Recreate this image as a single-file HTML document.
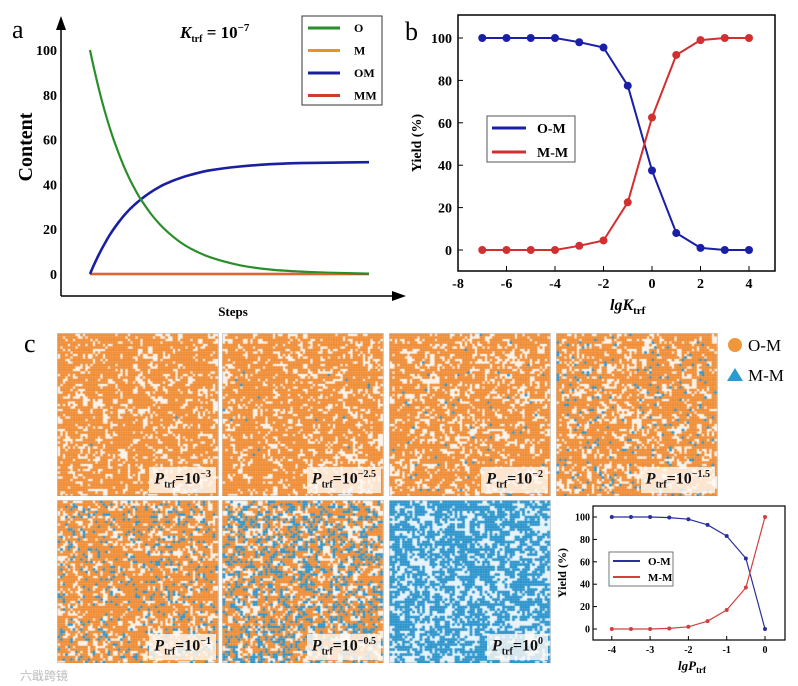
<!DOCTYPE html>
<html><head><meta charset="utf-8"><style>
body{margin:0;background:#fff;}
#root{position:relative;width:798px;height:686px;overflow:hidden;font-family:"Liberation Serif",serif;}
svg text{font-family:"Liberation Serif",serif;}
canvas{position:absolute;}
.lbl{position:absolute;background:rgba(255,250,245,0.8);font:bold 16px "Liberation Serif",serif;color:#111;padding:2px 5px;}
.lbl i{font-style:italic;}
.lbl sub{font-size:10px;}
.lbl sup{font-size:10px;}
</style></head><body>
<div id="root">
<svg id="svg" width="798" height="686" style="position:absolute;left:0;top:0"></svg>
</div>
<script>
// ---- Panel a data ----
const aSteps=[0,5,10,15,20,25,30,35,40,45,50,60,70,80,90,100,120,150,180,210,240,279];
const aO=[100,89.8,80.6,72.3,64.9,58.3,52.3,46.9,42.1,37.8,33.9,27.4,22.1,17.8,14.3,11.5,7.5,3.9,2.0,1.1,0.6,0.2];
const aOM=[0,5.1,9.7,13.8,17.6,20.9,23.9,26.6,29.0,31.1,33.0,36.3,39.0,41.1,42.8,44.2,46.3,48.0,49.0,49.5,49.7,49.9];
const aM=[0,0,0,0,0,0,0,0,0,0,0,0,0,0,0,0,0,0,0,0,0,0];
const aMM=[0,0,0,0,0,0,0,0,0,0,0,0,0,0,0,0,0,0,0,0,0,0];
const aTicks=[0,20,40,60,80,100];
// ---- Panel b data ----
const bX=[-7,-6,-5,-4,-3,-2,-1,0,1,2,3,4];
const bOM=[100,100,100,100,98,95.5,77.5,37.5,8,1,0,0];
const bMM=[0,0,0,0,2,4.5,22.5,62.5,92,99,100,100];
const bXTicks=[-8,-6,-4,-2,0,2,4];
const bYTicks=[0,20,40,60,80,100];
// ---- Panel c inset data ----
const cX=[-4,-3.5,-3,-2.5,-2,-1.5,-1,-0.5,0];
const cOM=[100,100,100,99.5,98,93,83,63,0];
const cMM=[0,0,0,0.5,2,7,17,37,100];
const cXTicks=[-4,-3,-2,-1,0];
const cYTicks=[0,20,40,60,80,100];
// ---- scatter panels ----
const pExp=["-3","-2.5","-2","-1.5","-1","-0.5","0"];
const pBlue=[0.002,0.006,0.02,0.07,0.17,0.37,1.0];

const NS="http://www.w3.org/2000/svg";
const svg=document.getElementById('svg');
function el(tag,attrs,parent,txt){const e=document.createElementNS(NS,tag);for(const k in attrs)e.setAttribute(k,attrs[k]);if(txt!==undefined)e.textContent=txt;(parent||svg).appendChild(e);return e;}
function poly(xs,ys,sx,sy,color,w,name){
  const p=xs.map((x,i)=>sx(x).toFixed(1)+','+sy(ys[i]).toFixed(1)).join(' ');
  const e=el('polyline',{points:p,fill:'none',stroke:color,'stroke-width':w,'stroke-linejoin':'round'});
  
  
  return e;
}
function smooth(xs,ys,sx,sy,color,w,name){
  const P=xs.map((x,i)=>[sx(x),sy(ys[i])]);
  let d='M'+P[0][0].toFixed(1)+','+P[0][1].toFixed(1);
  for(let i=0;i<P.length-1;i++){
    const p0=P[Math.max(0,i-1)],p1=P[i],p2=P[i+1],p3=P[Math.min(P.length-1,i+2)];
    const c1=[p1[0]+(p2[0]-p0[0])/6,p1[1]+(p2[1]-p0[1])/6];
    const c2=[p2[0]-(p3[0]-p1[0])/6,p2[1]-(p3[1]-p1[1])/6];
    d+=' C'+c1.map(v=>v.toFixed(1)).join(',')+' '+c2.map(v=>v.toFixed(1)).join(',')+' '+p2[0].toFixed(1)+','+p2[1].toFixed(1);
  }
  const e=el('path',{d:d,fill:'none',stroke:color,'stroke-width':w});
  
  
  return e;
}

// ===== Panel a =====
{
const sx=s=>90+s*(369-90)/279, sy=v=>274-v*2.24;
el('text',{x:12,y:38,'font-size':26},null,'a');
el('line',{x1:61,y1:296,x2:61,y2:26,stroke:'#000','stroke-width':1.5});
el('polygon',{points:'61,16 56,30 66,30',fill:'#000'});
el('line',{x1:61,y1:296,x2:396,y2:296,stroke:'#000','stroke-width':1.5});
el('polygon',{points:'406,296 392,291 392,301',fill:'#000'});
aTicks.forEach(t=>{const e=el('text',{x:57,y:sy(t)+5,'font-size':14,'font-weight':'bold','text-anchor':'end'},null,t);
});
const yl=el('text',{x:0,y:0,'font-size':20,'font-weight':'bold','text-anchor':'middle',transform:'translate(32,147) rotate(-90)'},null,'Content');

el('text',{x:233,y:316,'font-size':13,'font-weight':'bold','text-anchor':'middle'},null,'Steps');
const t=el('text',{x:180,y:38,'font-size':17,'font-weight':'bold'});

el('tspan',{'font-style':'italic'},t,'K');el('tspan',{'font-size':10,dy:4},t,'trf');el('tspan',{dy:-4},t,' = 10');el('tspan',{'font-size':11,dy:-7},t,'−7');
poly(aSteps,aMM,sx,sy,'#d23a2a',2.4,'series-mm');
poly(aSteps,aM,sx,sy,'#e8922b',1,'series-m');
smooth(aSteps,aOM,sx,sy,'#1a1fa0',2.6,'series-om');
smooth(aSteps,aO,sx,sy,'#2a8f2a',2.2,'series-o');
el('rect',{x:302,y:16,width:80,height:89,fill:'#fff',stroke:'#333','stroke-width':1});
[['O','#2a8f2a'],['M','#e8922b'],['OM','#1a1fa0'],['MM','#d23a2a']].forEach((d,i)=>{
 const y=28+i*22.5;
 el('line',{x1:308,y1:y,x2:340,y2:y,stroke:d[1],'stroke-width':3});
 el('text',{x:354,y:y+4,'font-size':12,'font-weight':'bold'},null,d[0]);
});
}

// ===== Panel b =====
{
const sx=x=>458+(x+8)*24.25, sy=v=>250-v*2.12;
el('text',{x:405,y:40,'font-size':26},null,'b');
el('rect',{x:458,y:15,width:317,height:256,fill:'none',stroke:'#000','stroke-width':1.5});
bXTicks.forEach(t=>{el('line',{x1:sx(t),y1:271,x2:sx(t),y2:266,stroke:'#000'});
 el('text',{x:sx(t),y:288,'font-size':14,'font-weight':'bold','text-anchor':'middle'},null,t);});
bYTicks.forEach(t=>{el('line',{x1:458,y1:sy(t),x2:463,y2:sy(t),stroke:'#000'});
 el('text',{x:452,y:sy(t)+5,'font-size':14,'font-weight':'bold','text-anchor':'end'},null,t);});
el('text',{x:0,y:0,'font-size':14,'font-weight':'bold','text-anchor':'middle',transform:'translate(421,143) rotate(-90)'},null,'Yield (%)');
const t=el('text',{x:610,y:310,'font-size':16,'font-weight':'bold','font-style':'italic'});

el('tspan',{},t,'lgK');el('tspan',{'font-size':11,dy:4,'font-style':'normal'},t,'trf');
poly(bX,bOM,sx,sy,'#1a1fa8',2,'series-om-line');
poly(bX,bMM,sx,sy,'#d23030',2,'series-mm-line');
bX.forEach((x,i)=>{const c=el('circle',{cx:sx(x),cy:sy(bOM[i]),r:4,fill:'#1a1fa8'});});
bX.forEach((x,i)=>{const c=el('circle',{cx:sx(x),cy:sy(bMM[i]),r:4,fill:'#d23030'});});
el('rect',{x:487,y:116,width:88,height:46,fill:'#fff',stroke:'#555','stroke-width':1});
[['O-M','#1a1fa8'],['M-M','#d23030']].forEach((d,i)=>{const y=128+i*24;
 el('line',{x1:492,y1:y,x2:526,y2:y,stroke:d[1],'stroke-width':3});
 el('text',{x:537,y:y+5,'font-size':14,'font-weight':'bold'},null,d[0]);});
}

// ===== Panel c inset =====
{
const sx=x=>765+x*38.3, sy=v=>629-v*1.12;
el('rect',{x:593,y:506,width:192,height:134,fill:'none',stroke:'#000','stroke-width':1.2});
cXTicks.forEach(t=>{el('line',{x1:sx(t),y1:640,x2:sx(t),y2:636,stroke:'#000'});
 el('text',{x:sx(t),y:653,'font-size':10,'font-weight':'bold','text-anchor':'middle'},null,t);});
cYTicks.forEach(t=>{el('line',{x1:593,y1:sy(t),x2:597,y2:sy(t),stroke:'#000'});
 el('text',{x:590,y:sy(t)+3.5,'font-size':10,'font-weight':'bold','text-anchor':'end'},null,t);});
el('text',{x:0,y:0,'font-size':12,'font-weight':'bold','text-anchor':'middle',transform:'translate(566,573) rotate(-90)'},null,'Yield (%)');
const t=el('text',{x:678,y:670,'font-size':13,'font-weight':'bold','font-style':'italic'});

el('tspan',{},t,'lgP');el('tspan',{'font-size':9,dy:3,'font-style':'normal'},t,'trf');
poly(cX,cOM,sx,sy,'#2a2f9a',1.2,'c-series-om-line');
poly(cX,cMM,sx,sy,'#d04040',1.2,'c-series-mm-line');
cX.forEach((x,i)=>{const c=el('circle',{cx:sx(x),cy:sy(cOM[i]),r:2,fill:'#2a2f9a'});});
cX.forEach((x,i)=>{const c=el('circle',{cx:sx(x),cy:sy(cMM[i]),r:2,fill:'#d04040'});});
el('rect',{x:609,y:552,width:64,height:34,fill:'#fff',stroke:'#555','stroke-width':0.8});
[['O-M','#2a2f9a'],['M-M','#d04040']].forEach((d,i)=>{const y=561+i*16;
 el('line',{x1:613,y1:y,x2:640,y2:y,stroke:d[1],'stroke-width':2});
 el('text',{x:648,y:y+4,'font-size':11,'font-weight':'bold'},null,d[0]);});
}

// ===== Panel c letter and legend =====
el('text',{x:24,y:352,'font-size':26},null,'c');
el('circle',{cx:735,cy:345,r:7,fill:'#f0963c'});
el('text',{x:748,y:351,'font-size':17},null,'O-M');
el('polygon',{points:'735,368 743,381 727,381',fill:'#2a9ad0'});
el('text',{x:748,y:381,'font-size':17},null,'M-M');
el('text',{x:20,y:680,'font-size':12,fill:'#bbb','font-family':'"Liberation Sans","Noto Sans CJK SC",sans-serif'},null,'六戢跨镜');

// ===== scatter panels =====
const root=document.getElementById('root');
const pos=[[57,333],[222,333],[389,333],[556,333],[57,500],[222,500],[389,500]];
function hash(a,b,c){let h=(a*374761393+b*668265263+c*2147483647)|0;h=(h^(h>>>13))*1274126177|0;h^=h>>>16;return (h>>>0)/4294967296;}
pos.forEach((p,k)=>{
 const W=162,H=163;
 const cv=document.createElement('canvas');cv.width=W;cv.height=H;
 cv.style.left=p[0]+'px';cv.style.top=p[1]+'px';
 
 
 root.appendChild(cv);
 const g=cv.getContext('2d');
 g.fillStyle=k===6?'#e6f3fa':'#fbf3ea';g.fillRect(0,0,W,H);
 g.strokeStyle='#ccc';g.strokeRect(0.5,0.5,W-1,H-1);
 const cs=2.5;
 for(let i=0;i<W/cs-1;i++)for(let j=0;j<H/cs-1;j++){
   const r=hash(i,j,k+1);
   const sm=(hash(i>>1,j>>1,k+7)+r)/2;
   if(sm<(k===6?0.45:0.36))continue;
   const blue=hash(i,j,k+99)<pBlue[k];
   g.fillStyle=blue?'#2a94cc':'#f08c34';
   g.beginPath();g.arc(2+i*cs,2+j*cs,1.55,0,6.29);g.fill();
 }
 const d=document.createElement('div');d.className='lbl';
 
 
 d.innerHTML='<i>P</i><sub>trf</sub>=10<sup>'+pExp[k].replace('-','−')+'</sup>';
 d.style.right=(798-p[0]-W+3)+'px';d.style.top=(p[1]+H-29)+'px';
 root.appendChild(d);
});
</script>
</body></html>
